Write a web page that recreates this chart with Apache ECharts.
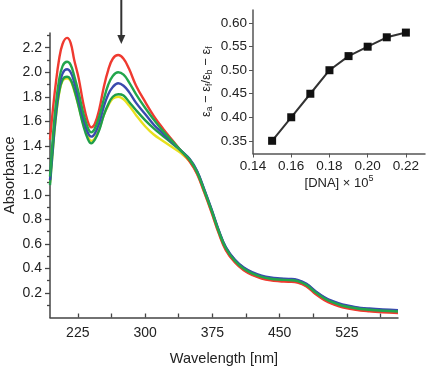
<!DOCTYPE html>
<html>
<head>
<meta charset="utf-8">
<script src="https://cdn.jsdelivr.net/npm/echarts@6/dist/echarts.min.js"></script>
<style>
html,body{margin:0;padding:0;background:#fff;}
#chart{width:428px;height:366px;}
</style>
</head>
<body>
<div id="chart"></div>
<script>
// absorption spectra, wavelength in nm
var wavelength=[194,197,200,204,208,213,217,221,226,231,236,240,244,249,254,259,264,270,276,282,290,300,310,320,330,340,350,358,366,374,382,390,400,410,420,430,440,450,460,470,480,490,500,510,520,535,550,565,582];
var absRed=[1.45,1.68,1.88,2.10,2.23,2.28,2.24,2.10,1.95,1.75,1.60,1.55,1.58,1.70,1.88,2.02,2.11,2.14,2.11,2.03,1.89,1.76,1.64,1.54,1.45,1.36,1.27,1.17,1.02,0.86,0.69,0.55,0.45,0.385,0.345,0.318,0.303,0.296,0.292,0.284,0.252,0.192,0.142,0.108,0.083,0.062,0.05,0.042,0.036];
var absGreen1=[1.15,1.45,1.70,1.93,2.05,2.085,2.06,1.97,1.83,1.67,1.55,1.51,1.54,1.64,1.78,1.90,1.97,2.00,1.98,1.92,1.82,1.71,1.61,1.52,1.44,1.36,1.285,1.185,1.035,0.875,0.705,0.565,0.463,0.398,0.358,0.331,0.316,0.309,0.305,0.297,0.265,0.205,0.155,0.121,0.096,0.075,0.063,0.055,0.049];
var absBlue=[1.12,1.40,1.65,1.88,1.99,2.024,2.00,1.92,1.78,1.63,1.51,1.475,1.50,1.59,1.72,1.82,1.88,1.91,1.89,1.84,1.75,1.66,1.57,1.50,1.43,1.36,1.29,1.195,1.045,0.885,0.715,0.575,0.473,0.408,0.368,0.341,0.326,0.319,0.315,0.307,0.275,0.215,0.165,0.131,0.106,0.085,0.073,0.065,0.059];
var absGreen2=[1.08,1.35,1.60,1.83,1.94,1.963,1.94,1.86,1.72,1.57,1.46,1.42,1.45,1.53,1.65,1.74,1.80,1.82,1.81,1.76,1.69,1.61,1.54,1.48,1.42,1.36,1.285,1.19,1.04,0.88,0.71,0.57,0.468,0.403,0.363,0.336,0.321,0.314,0.31,0.302,0.27,0.21,0.16,0.126,0.101,0.08,0.068,0.06,0.054];
var absYellow=[1.10,1.36,1.60,1.82,1.93,1.95,1.93,1.85,1.72,1.58,1.48,1.44,1.46,1.54,1.65,1.73,1.785,1.80,1.78,1.73,1.65,1.56,1.49,1.44,1.39,1.34,1.27,1.175,1.025,0.865,0.695,0.555,0.455,0.39,0.35,0.323,0.308,0.30,0.297,0.289,0.257,0.197,0.147,0.113,0.088,0.067,0.055,0.047,0.041];

// inset: [DNA] x 10^5 vs (ea-ef)/(eb-ef)
var dnaConc=[0.15,0.16,0.17,0.18,0.19,0.20,0.21,0.22];
var epsRatio=[0.35,0.40,0.45,0.50,0.53,0.55,0.57,0.58];

var wlLabels=[225,300,375,450,525];
var wlTicks=[225,262.5,300,337.5,375,412.5,450,487.5,525,562.5];
var absLabels=[0.2,0.4,0.6,0.8,1.0,1.2,1.4,1.6,1.8,2.0,2.2];
var absMinor=[0.1,0.3,0.5,0.7,0.9,1.1,1.3,1.5,1.7,1.9,2.1,2.3];
var dnaLabels=[0.14,0.16,0.18,0.20,0.22];
var ratioLabels=[0.35,0.40,0.45,0.50,0.55,0.60];

function pairs(xs,ys){
	var out=[];
	for(var i=0;i<xs.length;i++){out.push([xs[i],ys[i]]);}
	return out;
}

var txt="#222";
var font="Liberation Sans";

var chart=echarts.init(document.getElementById('chart'));
function spec(name,data,color){
	return {
		name:name,
		type:'line',
		xAxisIndex:0,
		yAxisIndex:0,
		smooth:0.4,
		showSymbol:false,
		data:pairs(wavelength,data),
		lineStyle:{color:color,width:2.4},
		itemStyle:{color:color}
	};
}
option={
	animation:false,
	textStyle:{fontFamily:font},
	grid:[
		{left:50,top:33,right:30,bottom:48.5,outerBoundsMode:'none',containLabel:false},
		{left:253,top:10,right:3,bottom:212.5,outerBoundsMode:'none',containLabel:false}
	],
	xAxis:[
		{
			type:'value',gridIndex:0,min:194,max:582,
			name:'Wavelength [nm]',nameLocation:'middle',nameGap:34,nameMoveOverlap:false,
			nameTextStyle:{color:txt,fontSize:14.5,fontFamily:font},
			axisLine:{lineStyle:{color:'#444',width:1.5}},
			axisTick:{inside:true,length:4,customValues:wlTicks,lineStyle:{color:'#444',width:1.3}},
			axisLabel:{customValues:wlLabels,color:txt,fontSize:14,margin:9,fontFamily:font},
			splitLine:{show:false}
		},
		{
			type:'value',gridIndex:1,min:0.14,max:0.23,
			name:'[DNA] × 10{sup|5}',nameLocation:'middle',nameGap:21,nameMoveOverlap:false,
			nameTextStyle:{color:txt,fontSize:13,fontFamily:font,rich:{sup:{fontSize:9,color:txt,padding:[0,0,9,0],fontFamily:font}}},
			axisLine:{lineStyle:{color:'#555',width:1.5}},
			axisTick:{length:4,customValues:dnaLabels,lineStyle:{color:'#555'}},
			axisLabel:{customValues:dnaLabels,color:txt,fontSize:13.5,margin:6,fontFamily:font,
				formatter:function(v){return v.toFixed(2);}},
			splitLine:{show:false}
		}
	],
	yAxis:[
		{
			type:'value',gridIndex:0,min:0,max:2.32,position:'left',
			name:'Absorbance',nameLocation:'middle',nameGap:33,nameMoveOverlap:false,
			nameTextStyle:{color:txt,fontSize:14.5,fontFamily:font},
			axisLine:{show:true,lineStyle:{color:'#444',width:1.5}},
			axisTick:{show:true,length:5,customValues:absLabels,lineStyle:{color:'#444',width:1.3}},
			axisLabel:{customValues:absLabels,color:txt,fontSize:14,margin:8,fontFamily:font,
				formatter:function(v){return v.toFixed(1);}},
			splitLine:{show:false}
		},
		{
			type:'value',gridIndex:0,min:0,max:2.32,position:'left',
			axisLine:{show:false},
			axisTick:{show:true,length:3,customValues:absMinor,lineStyle:{color:'#444',width:1.3}},
			axisLabel:{show:false},
			splitLine:{show:false}
		},
		{
			type:'value',gridIndex:1,min:0.323,max:0.628,
			name:'ε{s|a} − ε{s|f}/ε{s|b} − ε{s|f}',nameLocation:'middle',nameGap:39,nameMoveOverlap:false,
			nameTextStyle:{color:txt,fontSize:13,fontFamily:font,rich:{s:{fontSize:8.5,color:txt,padding:[7,0,0,0],fontFamily:font}}},
			axisLine:{show:true,lineStyle:{color:'#555',width:1.5}},
			axisTick:{show:true,length:4,customValues:ratioLabels,lineStyle:{color:'#555'}},
			axisLabel:{customValues:ratioLabels,color:txt,fontSize:13.5,margin:6,fontFamily:font,
				formatter:function(v){return v.toFixed(2);}},
			splitLine:{show:false}
		}
	],
	series:[
		spec('yellow',absYellow,'#e8e01e'),
		spec('red',absRed,'#ef3a30'),
		spec('green2',absGreen2,'#1f9e4a'),
		spec('blue',absBlue,'#3a4aae'),
		spec('green1',absGreen1,'#22a64c'),
		{
			name:'ratio',
			type:'line',
			xAxisIndex:1,
			yAxisIndex:2,
			data:pairs(dnaConc,epsRatio),
			symbol:'rect',
			symbolSize:8,
			lineStyle:{color:'#333',width:2},
			itemStyle:{color:'#111'}
		}
	]
};
chart.setOption(option);

// arrow marking the decreasing band
var tip=chart.convertToPixel({xAxisIndex:0,yAxisIndex:0},[273.5,2.23]);
chart.setOption({
	graphic:[
		{type:'line',shape:{x1:tip[0],y1:0,x2:tip[0],y2:tip[1]-7},style:{stroke:'#333',lineWidth:2}},
		{type:'polygon',shape:{points:[[tip[0]-4,tip[1]-9],[tip[0]+4,tip[1]-9],[tip[0],tip[1]]]},style:{fill:'#333'}}
	]
});
</script>
</body>
</html>
